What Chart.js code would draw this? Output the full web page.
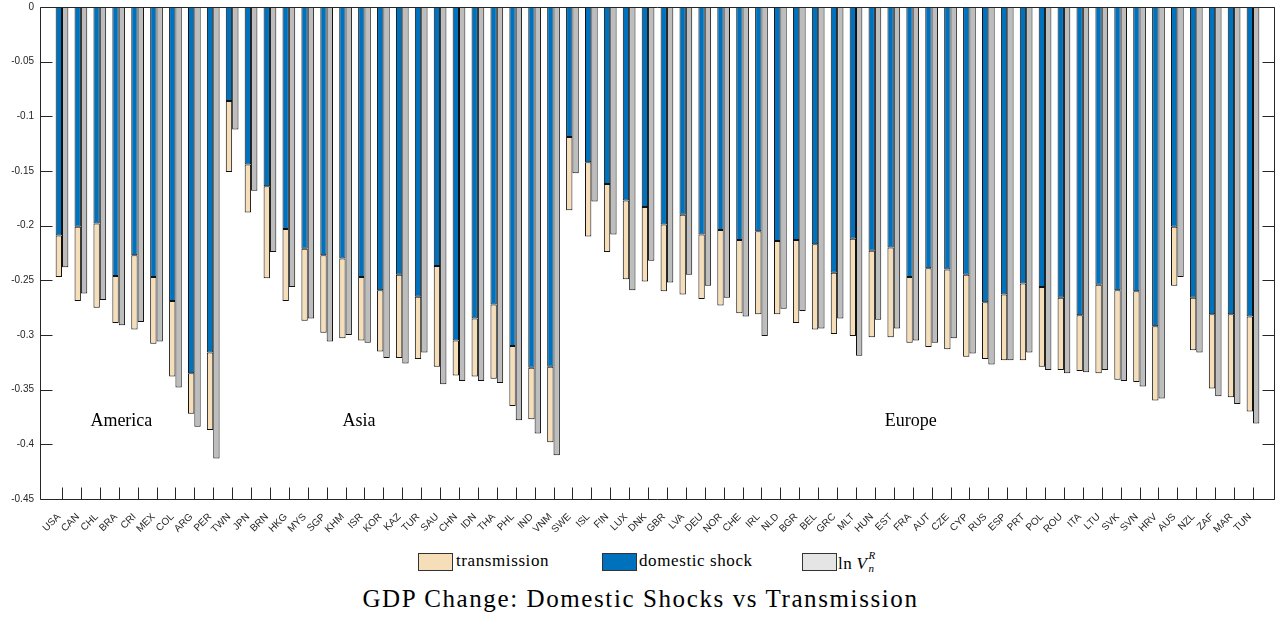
<!DOCTYPE html>
<html>
<head>
<meta charset="utf-8">
<script src="https://cdn.jsdelivr.net/npm/chart.js@4/dist/chart.umd.min.js"></script>
<style>
  body { margin: 0; background: #fff; }
  #wrap { position: absolute; left: 0; top: 0; width: 1281px; height: 545px; }
  .lg { position: absolute; font-family: "Liberation Serif", serif; font-size: 17px; line-height: 17px; letter-spacing: 0.6px; color: #000; white-space: nowrap; }
  .patch { position: absolute; width: 33px; height: 16px; border: 1px solid #333; }
  .ss { display: inline-block; position: relative; width: 12px; height: 17px; font-style: italic; font-size: 11px; letter-spacing: 0; }
  .ss .sup { position: absolute; left: 1px; top: -5px; }
  .ss .sub { position: absolute; left: 1px; top: 8px; }
  #title { position: absolute; left: 0; width: 1281px; top: 586px; text-align: center; font-family: "Liberation Serif", serif; font-size: 25px; line-height: 25px; letter-spacing: 1.6px; color: #000; }
</style>
</head>
<body>
<div id="wrap"><canvas id="chart" width="1281" height="545"></canvas></div>

<div class="patch" style="left:418px; top:553px; background:#F5DEB8;"></div>
<div class="lg" style="left:456px; top:552px;">transmission</div>
<div class="patch" style="left:602px; top:553px; background:#0072BD;"></div>
<div class="lg" style="left:639px; top:552px;">domestic shock</div>
<div class="patch" style="left:802px; top:553px; background:#E5E5E5;"></div>
<div class="lg" style="left:838px; top:552px;">ln&thinsp;<i>V</i><span class="ss"><span class="sup">R</span><span class="sub">n</span></span></div>

<div id="title">GDP Change: Domestic Shocks vs Transmission</div>

<script>
const countries = ['USA', 'CAN', 'CHL', 'BRA', 'CRI', 'MEX', 'COL', 'ARG', 'PER',
  'TWN', 'JPN', 'BRN', 'HKG', 'MYS', 'SGP', 'KHM', 'ISR', 'KOR', 'KAZ', 'TUR', 'SAU', 'CHN', 'IDN', 'THA', 'PHL', 'IND', 'VNM',
  'SWE', 'ISL', 'FIN', 'LUX', 'DNK', 'GBR', 'LVA', 'DEU', 'NOR', 'CHE', 'IRL', 'NLD', 'BGR', 'BEL', 'GRC', 'MLT', 'HUN', 'EST',
  'FRA', 'AUT', 'CZE', 'CYP', 'RUS', 'ESP', 'PRT', 'POL', 'ROU', 'ITA', 'LTU', 'SVK', 'SVN', 'HRV',
  'AUS', 'NZL', 'ZAF', 'MAR', 'TUN'];

// blue part, from 0 down
const domesticShock = [-0.209, -0.201, -0.198, -0.246, -0.227, -0.247, -0.269, -0.335, -0.316,
  -0.086, -0.144, -0.164, -0.203, -0.221, -0.227, -0.230, -0.247, -0.259, -0.245, -0.265, -0.237, -0.305, -0.285, -0.272, -0.310, -0.330, -0.329,
  -0.119, -0.142, -0.162, -0.177, -0.183, -0.199, -0.190, -0.208, -0.204, -0.213, -0.205, -0.214, -0.213, -0.217, -0.243, -0.212, -0.223, -0.220,
  -0.247, -0.239, -0.240, -0.245, -0.270, -0.263, -0.253, -0.256, -0.266, -0.282, -0.254, -0.259, -0.260, -0.292,
  -0.201, -0.266, -0.281, -0.281, -0.283];

// beige part, stacked under the blue one
const transmission = [-0.038, -0.068, -0.077, -0.043, -0.068, -0.061, -0.069, -0.037, -0.071,
  -0.065, -0.044, -0.084, -0.066, -0.066, -0.071, -0.073, -0.058, -0.056, -0.076, -0.057, -0.092, -0.032, -0.053, -0.068, -0.055, -0.047, -0.069,
  -0.067, -0.068, -0.062, -0.072, -0.068, -0.061, -0.073, -0.059, -0.069, -0.067, -0.076, -0.067, -0.076, -0.078, -0.056, -0.089, -0.079, -0.082,
  -0.060, -0.072, -0.073, -0.075, -0.052, -0.060, -0.070, -0.073, -0.066, -0.051, -0.081, -0.082, -0.083, -0.068,
  -0.054, -0.048, -0.068, -0.076, -0.087];

// ln V_n^R, grey bar
const lnV = [-0.238, -0.262, -0.268, -0.291, -0.288, -0.306, -0.348, -0.384, -0.413,
  -0.112, -0.168, -0.224, -0.256, -0.285, -0.306, -0.300, -0.307, -0.321, -0.326, -0.316, -0.345, -0.342, -0.342, -0.344, -0.378, -0.390, -0.410,
  -0.152, -0.178, -0.208, -0.259, -0.232, -0.252, -0.245, -0.255, -0.266, -0.283, -0.301, -0.276, -0.278, -0.294, -0.285, -0.319, -0.286, -0.294,
  -0.305, -0.307, -0.303, -0.317, -0.327, -0.323, -0.316, -0.332, -0.335, -0.334, -0.332, -0.342, -0.347, -0.358,
  -0.247, -0.316, -0.356, -0.363, -0.381];

const regionNames = ['America', 'Asia', 'Europe'];
const regionX = [4.14, 16.71, 45.9];
const regionY = -0.383;

const toPoints = (arr) => arr.map((v, i) => ({ x: i + 1, y: v }));

// рамка и внутренние засечки как в matlab
const axesBox = {
  id: 'axesBox',
  beforeDatasetsDraw(chart) {
    const { ctx, chartArea, scales } = chart;
    const L = Math.round(chartArea.left) + 0.5;
    const R = Math.round(chartArea.right) - 0.5;
    const B = Math.round(chartArea.bottom) + 0.5;
    ctx.save();
    ctx.strokeStyle = '#262626';
    ctx.lineWidth = 1;
    ctx.beginPath();
    scales.y.ticks.forEach((t) => {
      const py = Math.round(scales.y.getPixelForValue(t.value)) + 0.5;
      ctx.moveTo(L, py);
      ctx.lineTo(L + 12, py);
      ctx.moveTo(R - 12, py);
      ctx.lineTo(R, py);
    });
    countries.forEach((c, i) => {
      const px = Math.round(scales.x.getPixelForValue(i + 1)) + 0.5;
      ctx.moveTo(px, B);
      ctx.lineTo(px, B - 12);
    });
    ctx.stroke();
    ctx.restore();
  },
  afterDatasetsDraw(chart) {
    const { ctx, chartArea, scales } = chart;
    const L = Math.round(chartArea.left) + 0.5;
    const R = Math.round(chartArea.right) - 0.5;
    const T = Math.round(chartArea.top) + 0.5;
    const B = Math.round(chartArea.bottom) + 0.5;
    ctx.save();
    ctx.strokeStyle = '#262626';
    ctx.lineWidth = 1;
    ctx.beginPath();
    ctx.rect(L, T, R - L, B - T);
    ctx.stroke();

    ctx.fillStyle = '#000';
    ctx.font = '18px "Liberation Serif"';
    ctx.textAlign = 'center';
    ctx.textBaseline = 'alphabetic';
    regionNames.forEach((name, i) => {
      ctx.fillText(name, scales.x.getPixelForValue(regionX[i]), scales.y.getPixelForValue(regionY));
    });
    ctx.restore();
  }
};

new Chart(document.getElementById('chart'), {
  type: 'bar',
  data: {
    datasets: [
      {
        label: 'domestic shock',
        data: toPoints(domesticShock),
        backgroundColor: '#0072BD',
        stack: 'model',
      },
      {
        label: 'transmission',
        data: toPoints(transmission),
        backgroundColor: '#F5DEB8',
        stack: 'model',
      },
      {
        label: 'ln V',
        data: toPoints(lnV),
        backgroundColor: '#BDBDBD',
        stack: 'data',
      },
    ]
  },
  options: {
    responsive: false,
    animation: false,
    devicePixelRatio: 1,
    layout: { padding: { left: 0, right: 6, top: 7, bottom: 0 } },
    datasets: {
      bar: {
        borderColor: '#111111',
        borderWidth: 1,
        borderSkipped: false,
        categoryPercentage: 0.672,
        barPercentage: 1,
      }
    },
    scales: {
      x: {
        type: 'linear',
        stacked: true,
        offset: false,
        min: -0.164,
        max: 65.164,
        afterBuildTicks: (scale) => {
          scale.ticks = countries.map((c, i) => ({ value: i + 1 }));
        },
        afterFit: (scale) => {
          scale.height = 46;
          scale.paddingLeft = 0;
          scale.paddingRight = 0;
        },
        grid: { display: false },
        border: { display: false },
        ticks: {
          autoSkip: false,
          maxRotation: 45,
          minRotation: 45,
          padding: 4,
          labelOffset: -3,
          color: '#262626',
          font: { family: 'Liberation Sans', size: 10 },
          callback: (value) => countries[value - 1] || '',
        }
      },
      y: {
        stacked: true,
        min: -0.45,
        max: 0,
        afterFit: (scale) => {
          scale.width = 40;
          scale.paddingTop = 0;
          scale.paddingBottom = 0;
        },
        grid: { display: false, drawTicks: false },
        border: { display: false },
        ticks: {
          stepSize: 0.05,
          padding: 6,
          color: '#262626',
          font: { family: 'Liberation Sans', size: 10 },
          callback: (value) => {
            const v = parseFloat(value.toFixed(2));
            return v === 0 ? '0' : String(v);
          }
        }
      }
    },
    plugins: {
      legend: { display: false },
      tooltip: { enabled: false },
    }
  },
  plugins: [axesBox]
});
</script>
</body>
</html>
